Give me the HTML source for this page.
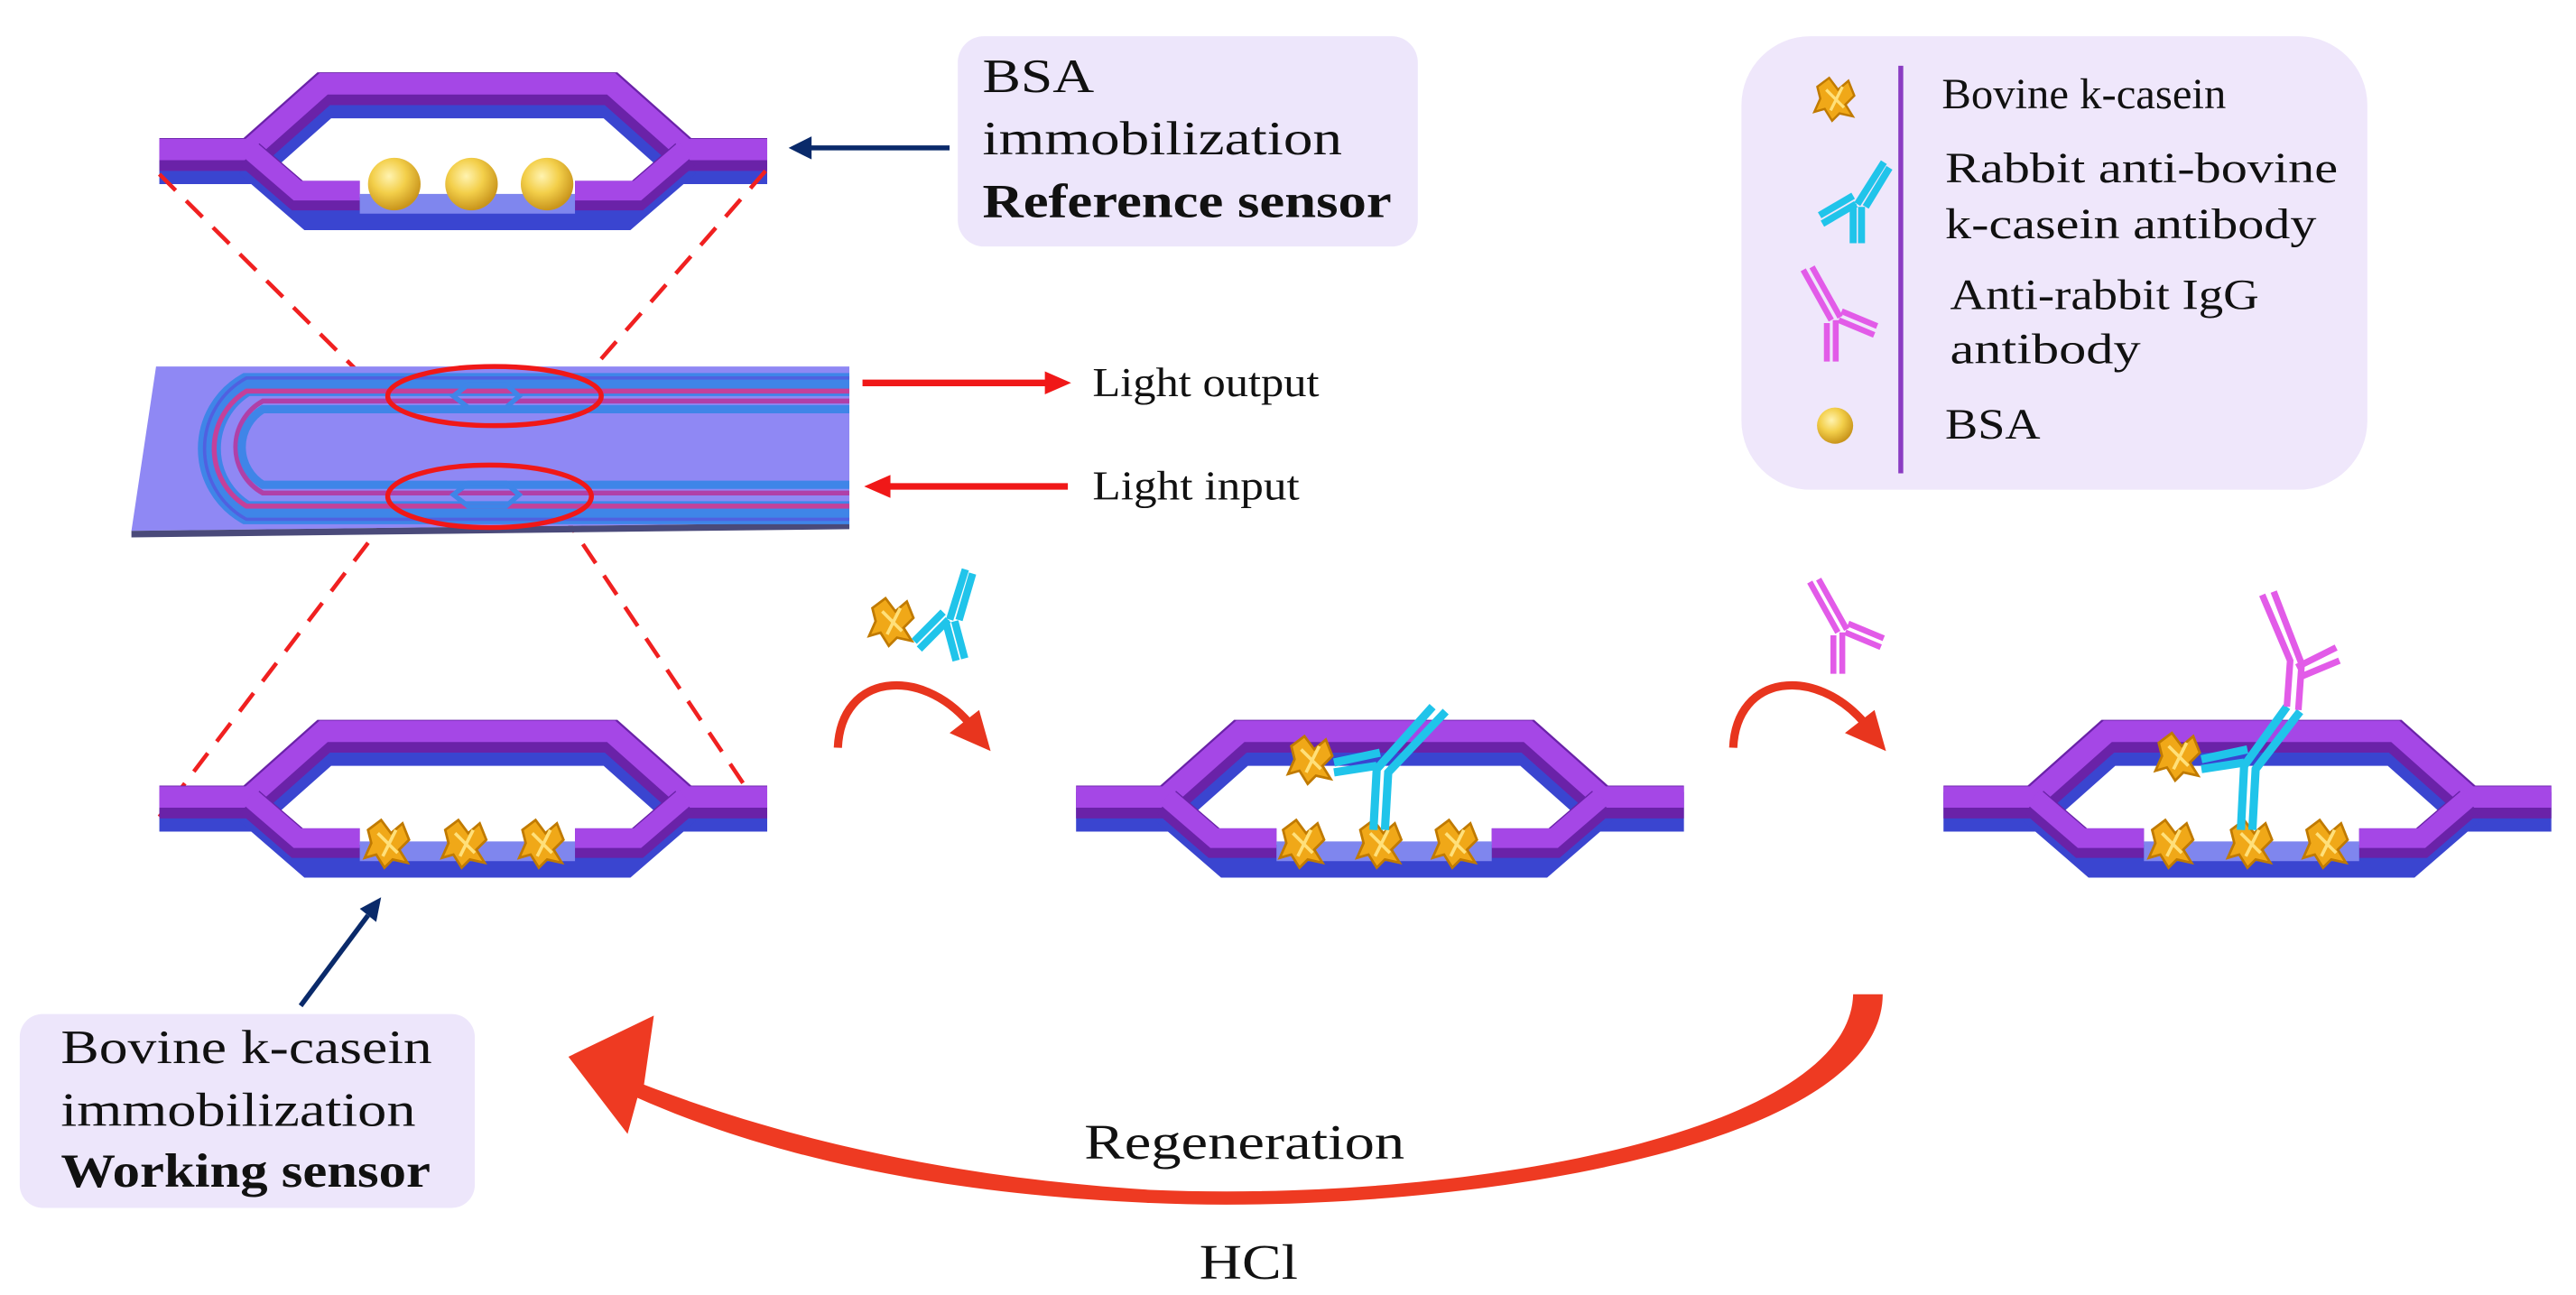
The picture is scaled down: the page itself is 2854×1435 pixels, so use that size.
<!DOCTYPE html>
<html><head><meta charset="utf-8"><style>
html,body{margin:0;padding:0;background:#fff;}
svg{display:block;}
text{font-family:"Liberation Serif",serif;fill:#111;}
</style></head><body>
<svg width="2854" height="1435" viewBox="0 0 1568 788" preserveAspectRatio="none" xmlns="http://www.w3.org/2000/svg">
<defs>
<radialGradient id="ball" cx="40%" cy="35%" r="65%"><stop offset="0" stop-color="#fff3b0"/><stop offset="0.5" stop-color="#f3cf4a"/><stop offset="1" stop-color="#c9951c"/></radialGradient>
<g id="wg">
  <path d="M0,0 H55 L100,-40 H275 L320,0 H370" fill="none" stroke="#3a45d0" stroke-width="24" transform="translate(0,6)"/>
  <path d="M55,0 L92,32 H283 L320,0" fill="none" stroke="#3a45d0" stroke-width="20" transform="translate(0,4)"/>
  <path d="M0,0 H55 L100,-40 H275 L320,0 H370" fill="none" stroke="#6a22a8" stroke-width="20"/>
  <path d="M0,-3 H55 L100,-43 H275 L320,-3 H370" fill="none" stroke="#a547e6" stroke-width="13"/>
  <path d="M55,0 L84,25 H122 M253,25 H291 L320,0" fill="none" stroke="#6a22a8" stroke-width="18"/>
  <path d="M55,-3 L84,22 H122 M253,22 H291 L320,-3" fill="none" stroke="#a547e6" stroke-width="12"/>
  <rect x="122" y="24" width="131" height="12" fill="#7f86ee"/>
</g>
<g id="cas">
  <path d="M-12,-8 L-4,-14 L2,-6 L9,-12 L13,-2 L7,4 L12,12 L3,10 L-2,15 L-7,7 L-14,9 L-10,0 Z" fill="#f0a818" stroke="#c07a00" stroke-width="1.5"/>
  <path d="M-6,-6 L6,6 M5,-8 L-3,8" stroke="#ffe07a" stroke-width="2"/>
</g>
<g id="abC" fill="none" stroke="#20c4ea" stroke-width="5">
  <path d="M0,0 L0,-28 M6,0 L6,-26"/>
  <path d="M3,-28 L22,-58 M9,-26 L26,-54"/>
  <path d="M2,-28 L-22,-14 M0,-34 L-24,-20"/>
</g>
<g id="abM" fill="none" stroke="#e25be8" stroke-width="4">
  <path d="M0,0 L0,-26 M6,0 L6,-28"/>
  <path d="M3,-28 L-16,-62 M9,-30 L-10,-64"/>
  <path d="M8,-28 L32,-18 M10,-34 L34,-24"/>
</g>
</defs>

<use href="#wg" transform="translate(97,94)"/>
<circle cx="240" cy="112" r="16" fill="url(#ball)"/>
<circle cx="287" cy="112" r="16" fill="url(#ball)"/>
<circle cx="333" cy="112" r="16" fill="url(#ball)"/>

<rect x="583" y="22" width="280" height="128" rx="16" fill="#ede6fb"/>
<text x="598" y="56" font-size="29" textLength="68" lengthAdjust="spacingAndGlyphs">BSA</text>
<text x="598" y="94" font-size="29" textLength="219" lengthAdjust="spacingAndGlyphs">immobilization</text>
<text x="598" y="132" font-size="29" font-weight="bold" textLength="249" lengthAdjust="spacingAndGlyphs">Reference sensor</text>
<line x1="578" y1="90" x2="492" y2="90" stroke="#0a2a6a" stroke-width="3"/>
<path d="M480,90 L494,83 L494,97 Z" fill="#0a2a6a"/>

<g stroke="#f02020" stroke-width="2.5" stroke-dasharray="14,9" fill="none">
<line x1="97" y1="106" x2="240" y2="248"/>
<line x1="466" y1="104" x2="340" y2="248"/>
<line x1="238" y1="312" x2="97" y2="497"/>
<line x1="342" y1="312" x2="466" y2="497"/>
</g>

<path d="M95,223 L517,223 L517,318 L80,323 Z" fill="#8f88f4"/>
<path d="M80,323 L517,318 L517,322 L80,327 Z" fill="#4a4a7a"/>
<g fill="none">
<path d="M517,234 H150 A45,45 0 0 0 150,312 H517" stroke="#3f85e8" stroke-width="14"/>
<path d="M517,238 H150 A41,41 0 0 0 150,308 H517" stroke="#c4409a" stroke-width="3"/>
<path d="M517,230 H150 A49,49 0 0 0 150,316 H517" stroke="#5060e0" stroke-width="2"/>
<path d="M517,244 H160 A32,32 0 0 0 160,300 H517" stroke="#b040a8" stroke-width="3"/>
<path d="M517,249 H160 A27,27 0 0 0 160,295 H517" stroke="#3f85e8" stroke-width="5"/>
<path d="M276,241 L285,234 H308 L316,241 L308,248 H285 Z" stroke="#3f85e8" stroke-width="3"/>
<path d="M276,301 L285,294 H308 L316,301 L308,308 H285 Z" stroke="#3f85e8" stroke-width="3"/>
</g>
<ellipse cx="301" cy="241" rx="65" ry="18" fill="none" stroke="#f01818" stroke-width="3"/>
<ellipse cx="298" cy="302" rx="62" ry="19" fill="none" stroke="#f01818" stroke-width="3"/>

<line x1="525" y1="233" x2="638" y2="233" stroke="#f01818" stroke-width="4"/>
<path d="M652,233 L636,226 L636,240 Z" fill="#f01818"/>
<line x1="650" y1="296" x2="540" y2="296" stroke="#f01818" stroke-width="4"/>
<path d="M526,296 L542,289 L542,303 Z" fill="#f01818"/>
<text x="665" y="241" font-size="25" textLength="138" lengthAdjust="spacingAndGlyphs">Light output</text>
<text x="665" y="304" font-size="25" textLength="126" lengthAdjust="spacingAndGlyphs">Light input</text>

<rect x="1060" y="22" width="381" height="276" rx="42" fill="#efe7fb"/>
<line x1="1157" y1="40" x2="1157" y2="288" stroke="#8a3bc2" stroke-width="3"/>
<use href="#cas" transform="translate(1117,60) scale(0.9)"/>
<use href="#abC" transform="translate(1128,148) scale(0.85)"/>
<use href="#abM" transform="translate(1112,220) scale(0.9)"/>
<circle cx="1117" cy="259" r="11" fill="url(#ball)"/>
<text x="1182" y="66" font-size="26" textLength="173" lengthAdjust="spacingAndGlyphs">Bovine k-casein</text>
<text x="1184" y="111" font-size="26" textLength="239" lengthAdjust="spacingAndGlyphs">Rabbit anti-bovine</text>
<text x="1184" y="145" font-size="26" textLength="226" lengthAdjust="spacingAndGlyphs">k-casein antibody</text>
<text x="1187" y="188" font-size="26" textLength="188" lengthAdjust="spacingAndGlyphs">Anti-rabbit IgG</text>
<text x="1187" y="221" font-size="26" textLength="116" lengthAdjust="spacingAndGlyphs">antibody</text>
<text x="1184" y="267" font-size="26" textLength="58" lengthAdjust="spacingAndGlyphs">BSA</text>

<use href="#wg" transform="translate(97,488)"/>
<use href="#cas" transform="translate(236,513)"/>
<use href="#cas" transform="translate(283,513)"/>
<use href="#cas" transform="translate(330,513)"/>
<line x1="183" y1="612" x2="224" y2="557" stroke="#0a2a6a" stroke-width="3"/>
<path d="M232,546 L219,553 L229,561 Z" fill="#0a2a6a"/>
<rect x="12" y="617" width="277" height="118" rx="14" fill="#ede6fb"/>
<text x="37" y="647" font-size="29" textLength="226" lengthAdjust="spacingAndGlyphs">Bovine k-casein</text>
<text x="37" y="685" font-size="29" textLength="216" lengthAdjust="spacingAndGlyphs">immobilization</text>
<text x="37" y="722" font-size="29" font-weight="bold" textLength="225" lengthAdjust="spacingAndGlyphs">Working sensor</text>

<use href="#cas" transform="translate(543,378)"/>
<use href="#abC" transform="translate(582,402) scale(0.9) rotate(-15)"/>
<path d="M510,455 C512,410 560,405 590,440" fill="none" stroke="#e8351e" stroke-width="5"/>
<path d="M603,457 L578,446 L596,432 Z" fill="#e8351e"/>

<use href="#wg" transform="translate(655,488)"/>
<use href="#cas" transform="translate(793,513)"/>
<use href="#cas" transform="translate(840,513)"/>
<use href="#cas" transform="translate(886,513)"/>
<use href="#cas" transform="translate(798,462)"/>
<path d="M812,464 L840,458 M812,470 L838,466" stroke="#20c4ea" stroke-width="5"/>
<path d="M836,505 L838,468 L872,430 M843,505 L845,470 L880,433" fill="none" stroke="#20c4ea" stroke-width="5"/>

<use href="#abM" transform="translate(1116,410) scale(0.9)"/>
<path d="M1055,455 C1057,410 1105,405 1135,440" fill="none" stroke="#e8351e" stroke-width="5"/>
<path d="M1148,457 L1123,446 L1141,432 Z" fill="#e8351e"/>

<use href="#wg" transform="translate(1183,488)"/>
<use href="#cas" transform="translate(1322,513)"/>
<use href="#cas" transform="translate(1370,513)"/>
<use href="#cas" transform="translate(1416,513)"/>
<use href="#cas" transform="translate(1326,460)"/>
<path d="M1340,462 L1368,456 M1340,468 L1366,464" stroke="#20c4ea" stroke-width="5"/>
<path d="M1364,505 L1366,466 L1392,430 M1371,505 L1373,468 L1400,433" fill="none" stroke="#20c4ea" stroke-width="5"/>
<path d="M1392,430 L1394,402 L1377,362 M1399,432 L1401,404 L1384,360 M1398,406 L1422,394 M1400,412 L1424,402" fill="none" stroke="#e25be8" stroke-width="4"/>

<path d="M1128,605 L1146,605 C1146,700 880,740 700,732 C560,726 460,700 388,668 L382,690 L346,643 L398,618 L392,660 C470,690 570,716 700,724 C890,732 1126,690 1128,605 Z" fill="#ee3a22"/>
<text x="660" y="705" font-size="30" textLength="195" lengthAdjust="spacingAndGlyphs">Regeneration</text>
<text x="730" y="778" font-size="30" textLength="60" lengthAdjust="spacingAndGlyphs">HCl</text>
</svg>
</body></html>
